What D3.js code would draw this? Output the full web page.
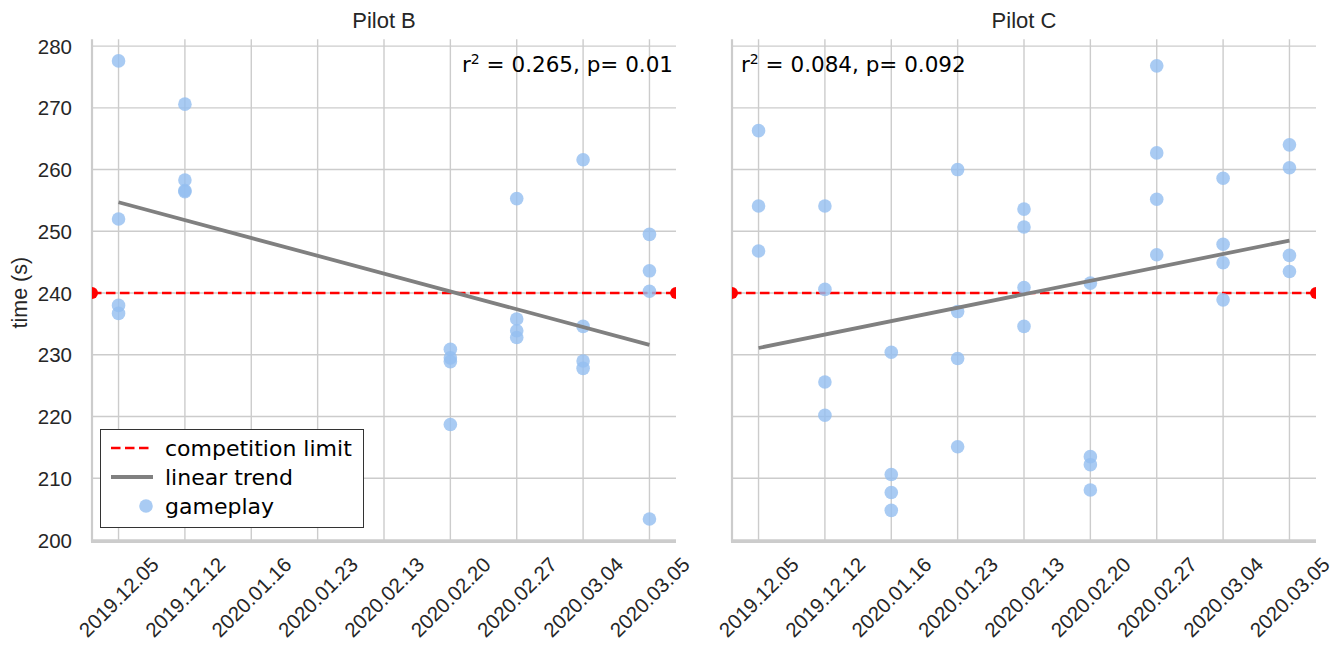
<!DOCTYPE html>
<html>
<head>
<meta charset="utf-8">
<script src="https://cdn.jsdelivr.net/npm/d3@7"></script>
<style>
  html, body { margin: 0; padding: 0; background: #fff; }
  svg { display: block; }
</style>
</head>
<body>
<svg id="chart" width="1341" height="645"></svg>
<script>
// ---------------- data ----------------
const dates = ["2019.12.05", "2019.12.12", "2020.01.16", "2020.01.23", "2020.02.13",
               "2020.02.20", "2020.02.27", "2020.03.04", "2020.03.05"];
const yTicks = [200, 210, 220, 230, 240, 250, 260, 270, 280];
const panelTitles = ["Pilot B", "Pilot C"];
const annotations = ["0.265, p= 0.01", "0.084, p= 0.092"];
const competitionLimit = 240;

// gameplay times per date (seconds)
const pilotB = [
  [277.6, 252.0, 238.0, 236.7],
  [270.6, 258.3, 256.6, 256.4],
  [],
  [],
  [],
  [230.9, 229.5, 228.9, 218.7],
  [255.3, 235.8, 233.9, 232.8],
  [261.6, 234.6, 229.0, 227.8],
  [249.5, 243.6, 240.3, 203.4]
];
const pilotC = [
  [266.3, 254.1, 246.8],
  [254.1, 240.6, 225.6, 220.2],
  [230.4, 210.6, 207.7, 204.8],
  [260.0, 237.0, 229.4, 215.1],
  [253.6, 250.7, 240.9, 234.6],
  [241.6, 213.5, 212.2, 208.1],
  [276.8, 262.7, 255.2, 246.2],
  [258.6, 247.9, 244.9, 238.9],
  [264.0, 260.3, 246.1, 243.5]
];
// linear trend values at first and last date
const trendB = [254.7, 231.6];
const trendC = [231.1, 248.5];

const legendLabels = ["competition limit", "linear trend", "gameplay"];

// ---------------- layout ----------------
const svg = d3.select("#chart");
const panels = [
  { x0: 92, x1: 676, data: pilotB, trend: trendB, title: panelTitles[0], ann: annotations[0], annX: 462, legend: true, yLabels: true },
  { x0: 732, x1: 1316, data: pilotC, trend: trendC, title: panelTitles[1], ann: annotations[1], annX: 741, legend: false, yLabels: false }
];
const yTop = 39.3, yBottom = 540;
const y = d3.scaleLinear().domain([200, 281.1]).range([yBottom, yTop]);

const gridColor = "#cccccc";
const pointFill = "#93bef0";
const pointOpacity = 0.8;
const trendColor = "#808080";
const limitColor = "#ff0000";
const tickFont = "'Liberation Sans', Arial, sans-serif";
const textFont = "'DejaVu Sans', sans-serif";

panels.forEach((p, pi) => {
  const idx = dates.map((d, i) => i);
  const x = d3.scaleLinear().domain([-0.4, dates.length - 1 + 0.4]).range([p.x0, p.x1]);
  const g = svg.append("g");

  const clipId = "clip" + pi;
  svg.append("clipPath").attr("id", clipId)
    .append("rect").attr("x", p.x0).attr("y", yTop).attr("width", p.x1 - p.x0).attr("height", yBottom - yTop);

  // grid
  g.append("g").selectAll("line").data(yTicks).join("line")
    .attr("x1", p.x0).attr("x2", p.x1)
    .attr("y1", d => y(d)).attr("y2", d => y(d))
    .attr("stroke", gridColor).attr("stroke-width", 1.4);
  g.append("g").selectAll("line").data(idx).join("line")
    .attr("x1", d => x(d)).attr("x2", d => x(d))
    .attr("y1", yTop).attr("y2", yBottom)
    .attr("stroke", gridColor).attr("stroke-width", 1.4);

  // spines
  g.append("line").attr("x1", p.x0).attr("x2", p.x0).attr("y1", yTop).attr("y2", yBottom + 1.5)
    .attr("stroke", gridColor).attr("stroke-width", 2.2);
  g.append("line").attr("x1", p.x0 - 1).attr("x2", p.x1).attr("y1", yBottom + 1.5).attr("y2", yBottom + 1.5)
    .attr("stroke", gridColor).attr("stroke-width", 3);

  // x tick labels (rotated 45, centred on tick)
  g.append("g").selectAll("text").data(dates).join("text")
    .attr("transform", (d, i) => `translate(${x(i)},${597}) rotate(-45)`)
    .attr("text-anchor", "middle")
    .attr("dominant-baseline", "central")
    .attr("font-family", tickFont).attr("font-size", 20.5).attr("fill", "#262626")
    .text(d => d);

  // y tick labels
  if (p.yLabels) {
    g.append("g").selectAll("text").data(yTicks).join("text")
      .attr("x", 72).attr("y", d => y(d))
      .attr("text-anchor", "end").attr("dominant-baseline", "central")
      .attr("font-family", tickFont).attr("font-size", 20.5).attr("fill", "#262626")
      .text(d => d);
    g.append("text")
      .attr("transform", `translate(${27},${(yTop + yBottom) / 2 + 3}) rotate(-90)`)
      .attr("text-anchor", "middle")
      .attr("font-family", tickFont).attr("font-size", 21.5).attr("fill", "#262626")
      .text("time (s)");
  }

  // title
  g.append("text").attr("x", (p.x0 + p.x1) / 2).attr("y", 28)
    .attr("text-anchor", "middle")
    .attr("font-family", tickFont).attr("font-size", 22).attr("fill", "#262626")
    .text(p.title);

  const inner = g.append("g").attr("clip-path", `url(#${clipId})`);

  // competition limit
  inner.append("line")
    .attr("x1", p.x0).attr("x2", p.x1)
    .attr("y1", y(competitionLimit)).attr("y2", y(competitionLimit))
    .attr("stroke", limitColor).attr("stroke-width", 2.6).attr("stroke-dasharray", "9.5,4.5");
  inner.selectAll("circle.mk").data([p.x0, p.x1]).join("circle").attr("class", "mk")
    .attr("cx", d => d).attr("cy", y(competitionLimit)).attr("r", 6)
    .attr("fill", limitColor);

  // points
  const pts = [];
  p.data.forEach((vals, i) => vals.forEach(v => pts.push({ i, v })));
  inner.append("g").selectAll("circle").data(pts).join("circle")
    .attr("cx", d => x(d.i)).attr("cy", d => y(d.v)).attr("r", 6.8)
    .attr("fill", pointFill).attr("fill-opacity", pointOpacity);

  // trend
  inner.append("line")
    .attr("x1", x(0)).attr("x2", x(dates.length - 1))
    .attr("y1", y(p.trend[0])).attr("y2", y(p.trend[1]))
    .attr("stroke", trendColor).attr("stroke-width", 3.8);

  // annotation
  const t = g.append("text").attr("x", p.annX).attr("y", 72)
    .attr("font-family", textFont).attr("font-size", 21.5).attr("fill", "#000")
    .attr("clip-path", `url(#${clipId})`);
  t.append("tspan").text("r");
  t.append("tspan").attr("dy", -8).attr("font-size", 14).text("2");
  t.append("tspan").attr("dy", 8).text(" = " + p.ann);

  // legend
  if (p.legend) {
    const lg = g.append("g");
    lg.append("rect").attr("x", 100.5).attr("y", 429.5).attr("width", 263).attr("height", 98)
      .attr("fill", "#fff").attr("stroke", "#333").attr("stroke-width", 1);
    const rows = [448, 477, 506];
    lg.append("line").attr("x1", 111).attr("x2", 153).attr("y1", rows[0]).attr("y2", rows[0])
      .attr("stroke", limitColor).attr("stroke-width", 2.6).attr("stroke-dasharray", "9.5,4.5");
    lg.append("line").attr("x1", 111).attr("x2", 153).attr("y1", rows[1]).attr("y2", rows[1])
      .attr("stroke", trendColor).attr("stroke-width", 3.8);
    lg.append("circle").attr("cx", 146).attr("cy", rows[2]).attr("r", 6.8)
      .attr("fill", pointFill).attr("fill-opacity", pointOpacity);
    lg.selectAll("text").data(legendLabels).join("text")
      .attr("x", 165).attr("y", (d, i) => rows[i] + 7.5)
      .attr("font-family", textFont).attr("font-size", 22).attr("fill", "#000")
      .text(d => d);
  }
});
</script>
</body>
</html>
